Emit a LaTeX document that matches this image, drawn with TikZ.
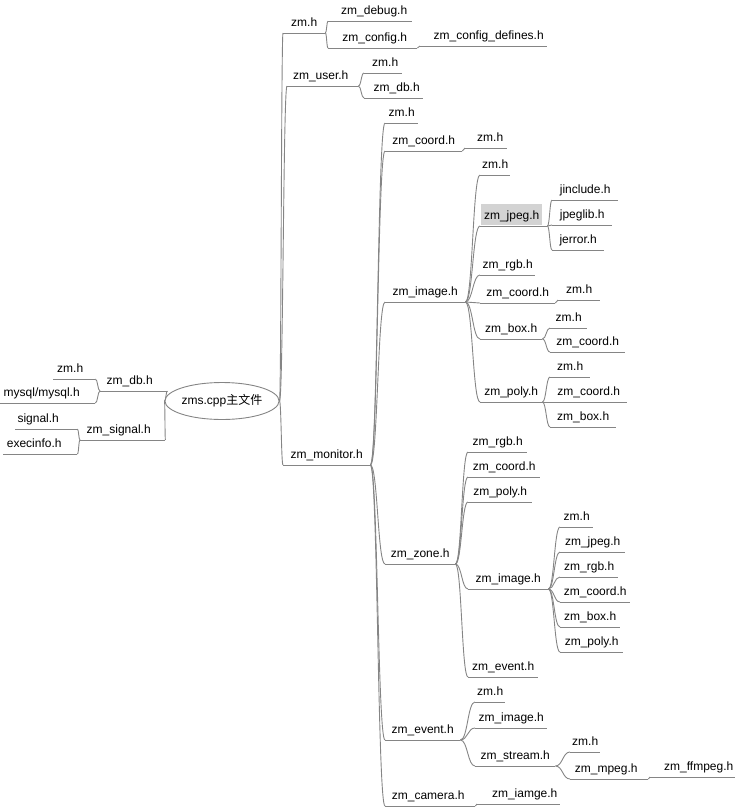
\documentclass[tikz,border=0pt]{standalone}
\usepackage{fontspec}
\setmainfont{Liberation Sans}
\newfontfamily\cjk{Noto Sans CJK SC}
\usetikzlibrary{calc,shapes.geometric,backgrounds}
\definecolor{linec}{HTML}{858585}
\definecolor{hilite}{HTML}{D3D3D3}
\tikzset{
  conn/.style={draw=linec, line width=0.9pt},
  topic/.style={anchor=south west, inner sep=0pt, text height=9pt, text depth=6pt,
    font=\fontsize{12}{14}\selectfont,
    append after command={(\tikzlastnode.south west) edge[conn] (\tikzlastnode.south east)}},
  rootnode/.style={ellipse, draw=linec, line width=0.9pt, minimum width=97pt,
    minimum height=37pt, inner sep=0pt, font=\fontsize{12}{14}\selectfont},
}
% underlined topic: name, left x, right x, line y, label (optional text shift)
\newcommand\tp[6][0pt]{\node[topic, minimum width=#4pt-#3pt] (#2) at (#3,#5)
  {\kern#1\relax#6\kern-#1\relax};}
% smooth branch from one end point to another
\newcommand\tie[2]{\draw[conn] let \p1=(#1), \p2=(#2), \n1={(\x2-\x1)/2} in
  (\p1) .. controls +(\n1,0) and +(-\n1,0) .. (\p2);}
\begin{document}
\begin{tikzpicture}[x=1pt,y=-1pt]
\useasboundingbox (0,0) rectangle (735,807);

\node[rootnode] (root) at (222,401) {zms.cpp{\cjk 主文件}};

% left side
\tp[-4pt]{db}{100}{167}{391}{zm\_db.h}
\tp[-4pt]{dbzm}{53}{95}{379}{zm.h}
\tp[-6pt]{dbmy}{0}{95}{403}{mysql/mysql.h}
\tp[-4pt]{sig}{80}{165}{440}{zm\_signal.h}
\tp[-8pt]{sigs}{15}{77}{429}{signal.h}
\tp[-6pt]{sige}{3}{77}{454}{execinfo.h}

% right side, first level
\tp{a}{283}{325}{33}{zm.h}
\tp[4pt]{a1}{328}{412}{21}{zm\_debug.h}
\tp[2pt]{a2}{328}{417}{48}{zm\_config.h}
\tp[5pt]{a21}{420}{547}{46}{zm\_config\_defines.h}
\tp[-2pt]{b}{287}{358}{86}{zm\_user.h}
\tp[2pt]{b1}{364}{402}{73}{zm.h}
\tp[3pt]{b2}{364}{423}{98}{zm\_db.h}
\tp{m}{283}{370}{465}{zm\_monitor.h}

% zm_monitor.h
\tp{m1}{385}{418}{123}{zm.h}
\tp{m2}{385}{462}{151}{zm\_coord.h}
\tp[4pt]{m21}{465}{507}{148}{zm.h}
\tp{m3}{385}{465}{302}{zm\_image.h}
\tp{m31}{480}{510}{175}{zm.h}
\begin{scope}[on background layer]
  \fill[hilite] (481,225) rectangle (542,204);
\end{scope}
\tp[-2pt]{m32}{480}{547}{226}{zm\_jpeg.h}
\tp{m321}{552}{618}{200}{jinclude.h}
\tp{m322}{552}{612}{225}{jpeglib.h}
\tp{m323}{552}{604}{250}{jerror.h}
\tp{m33}{480}{535}{275}{zm\_rgb.h}
\tp{m34}{480}{555}{303}{zm\_coord.h}
\tp{m341}{558}{600}{300}{zm.h}
\tp{m35}{480}{542}{339}{zm\_box.h}
\tp{m351}{550}{587}{328}{zm.h}
\tp{m352}{550}{625}{352}{zm\_coord.h}
\tp{m36}{480}{542}{402}{zm\_poly.h}
\tp{m361}{550}{590}{377}{zm.h}
\tp{m362}{550}{627}{402}{zm\_coord.h}
\tp{m363}{550}{616}{427}{zm\_box.h}
\tp{m4}{385}{455}{564}{zm\_zone.h}
\tp{m41}{468}{527}{452}{zm\_rgb.h}
\tp{m42}{468}{540}{477}{zm\_coord.h}
\tp{m43}{468}{532}{502}{zm\_poly.h}
\tp{m44}{468}{548}{589}{zm\_image.h}
\tp{m441}{560}{593}{527}{zm.h}
\tp{m442}{560}{625}{552}{zm\_jpeg.h}
\tp{m443}{560}{618}{577}{zm\_rgb.h}
\tp{m444}{560}{630}{602}{zm\_coord.h}
\tp{m445}{560}{620}{627}{zm\_box.h}
\tp{m446}{560}{623}{652}{zm\_poly.h}
\tp{m45}{468}{538}{677}{zm\_event.h}
\tp{m5}{385}{460}{740}{zm\_event.h}
\tp{m51}{475}{505}{702}{zm.h}
\tp{m52}{475}{547}{728}{zm\_image.h}
\tp{m53}{475}{555}{766}{zm\_stream.h}
\tp{m531}{570}{600}{752}{zm.h}
\tp[-3pt]{m532}{570}{648}{779}{zm\_mpeg.h}
\tp[6pt]{m5321}{650}{735}{777}{zm\_ffmpeg.h}
\tp[-2pt]{m6}{385}{475}{806}{zm\_camera.h}
\tp[6pt]{m61}{477}{560}{804}{zm\_iamge.h}

% branches
\tie{root.west}{db.south east}
\tie{root.west}{sig.south east}
\foreach \pa/\ch in {db/dbzm, db/dbmy, sig/sigs, sig/sige}
  {\tie{\pa.south west}{\ch.south east}}
\foreach \ch in {a, b, m}
  {\tie{root.east}{\ch.south west}}
\foreach \pa/\ch in {a/a1, a/a2, a2/a21, b/b1, b/b2,
    m/m1, m/m2, m/m3, m/m4, m/m5, m/m6, m2/m21,
    m3/m31, m3/m32, m3/m33, m3/m34, m3/m35, m3/m36,
    m32/m321, m32/m322, m32/m323, m34/m341, m35/m351, m35/m352,
    m36/m361, m36/m362, m36/m363,
    m4/m41, m4/m42, m4/m43, m4/m44, m4/m45,
    m44/m441, m44/m442, m44/m443, m44/m444, m44/m445, m44/m446,
    m5/m51, m5/m52, m5/m53, m53/m531, m53/m532, m532/m5321, m6/m61}
  {\tie{\pa.south east}{\ch.south west}}
\end{tikzpicture}
\end{document}
